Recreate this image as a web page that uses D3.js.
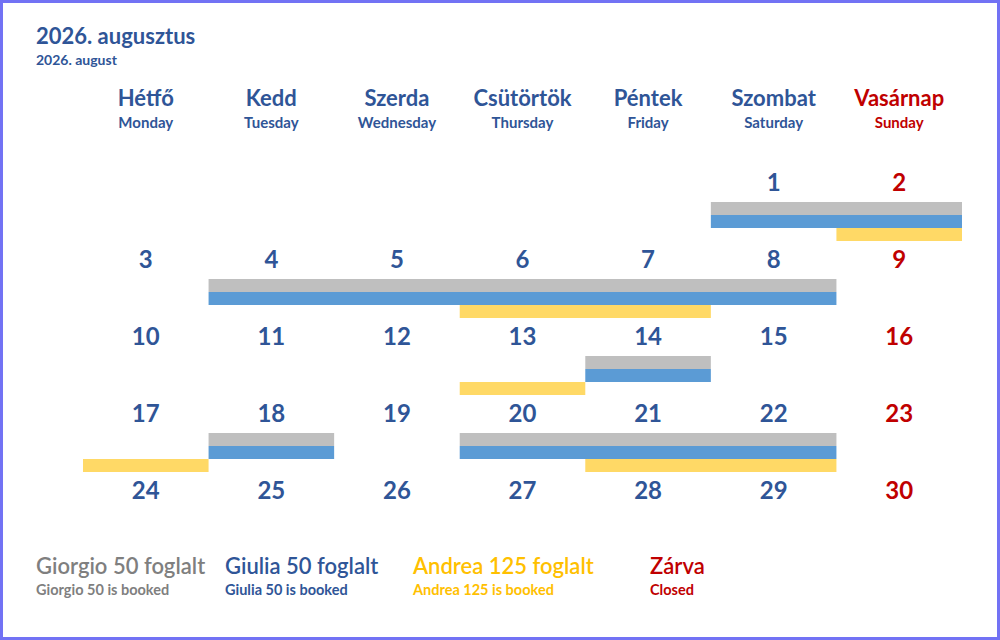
<!DOCTYPE html>
<html><head><meta charset="utf-8">
<script src="https://cdn.jsdelivr.net/npm/d3@7"></script>
<style>
html,body{margin:0;padding:0;background:#fff;}
svg{display:block;font-family:Lato,"Open Sans",sans-serif;}
</style></head><body>
<svg id="chart" width="1000" height="640"></svg>
<script>
const titleHu = "2026. augusztus";
const titleEn = "2026. august";
const weekdaysHu = ["Hétfő","Kedd","Szerda","Csütörtök","Péntek","Szombat","Vasárnap"];
const weekdaysEn = ["Monday","Tuesday","Wednesday","Thursday","Friday","Saturday","Sunday"];
const days = d3.range(1, 31);           // 1..30 shown
const firstWeekday = 5;                  // Aug 1, 2026 = Saturday (Mon=0)
const closedWeekdays = [6];              // Sunday
const seriesNames = ["Giorgio 50","Giulia 50","Andrea 125"];
const legendHu = ["Giorgio 50 foglalt","Giulia 50 foglalt","Andrea 125 foglalt","Zárva"];
const legendEn = ["Giorgio 50 is booked","Giulia 50 is booked","Andrea 125 is booked","Closed"];
const giorgioBookings = [[1,2],[4,8],[14,14],[18,18],[20,22]];
const giuliaBookings  = [[1,2],[4,8],[14,14],[18,18],[20,22]];
const andreaBookings  = [[2,2],[6,7],[13,13],[17,17],[21,22]];

const blue = "#2F5597", red = "#C00000";
const barColors = ["#BFBFBF","#5B9BD5","#FFD966"];
const legendColors = ["#7F7F7F","#2F5597","#FFC000","#C00000"];

const svg = d3.select("#chart");
svg.append("rect").attr("x",1.5).attr("y",1.5).attr("width",997).attr("height",637)
  .attr("fill","#fff").attr("stroke","#7272F4").attr("stroke-width",3);

const x = d3.scaleBand().domain(d3.range(7)).range([83, 962]).paddingInner(0).paddingOuter(0);
const y = d3.scaleLinear().domain([0,4]).range([182, 490]);
const barH = 13, barOff = 20;

const wd = d => (d - 1 + firstWeekday) % 7;
const wk = d => Math.floor((d - 1 + firstWeekday) / 7);

// titles
svg.append("text").attr("x",36).attr("y",44).attr("fill",blue)
  .attr("font-size",22).attr("font-weight",700).text(titleHu);
svg.append("text").attr("x",36).attr("y",65).attr("fill",blue)
  .attr("font-size",14).attr("font-weight",700).text(titleEn);

// headers
const hdr = svg.append("g").selectAll("g").data(d3.range(7)).join("g")
  .attr("transform", i => `translate(${x(i)+x.bandwidth()/2},0)`);
hdr.append("text").attr("y",106).attr("text-anchor","middle")
  .attr("fill", i => closedWeekdays.includes(i) ? red : blue)
  .attr("font-size",22).attr("font-weight",700).text(i => weekdaysHu[i]);
hdr.append("text").attr("y",128).attr("text-anchor","middle")
  .attr("fill", i => closedWeekdays.includes(i) ? red : blue)
  .attr("font-size",15).attr("font-weight",700).text(i => weekdaysEn[i]);

// bars
const bookings = [giorgioBookings, giuliaBookings, andreaBookings];
bookings.forEach((list, s) => {
  svg.append("g").selectAll("rect").data(list).join("rect")
    .attr("x", b => x(wd(b[0])))
    .attr("width", b => x(wd(b[1])) + x.bandwidth() - x(wd(b[0])))
    .attr("y", b => y(wk(b[0])) + barOff + s*barH)
    .attr("height", barH)
    .attr("fill", barColors[s]);
});

// day numbers
svg.append("g").selectAll("text").data(days).join("text")
  .attr("x", d => x(wd(d)) + x.bandwidth()/2)
  .attr("y", d => y(wk(d)) + 9)
  .attr("text-anchor","middle")
  .attr("fill", d => closedWeekdays.includes(wd(d)) ? red : blue)
  .attr("font-size",24).attr("font-weight",700).text(d => d);

// legend
const legX = [36, 225, 413, 650];
const lg = svg.append("g").selectAll("g").data(legendHu).join("g")
  .attr("transform",(d,i)=>`translate(${legX[i]},0)`);
lg.append("text").attr("y",574).attr("fill",(d,i)=>legendColors[i])
  .attr("font-size",22).attr("font-weight",600).text(d=>d);
lg.append("text").attr("y",595).attr("fill",(d,i)=>legendColors[i])
  .attr("font-size",14.5).attr("font-weight",700).text((d,i)=>legendEn[i]);
</script>
</body></html>
